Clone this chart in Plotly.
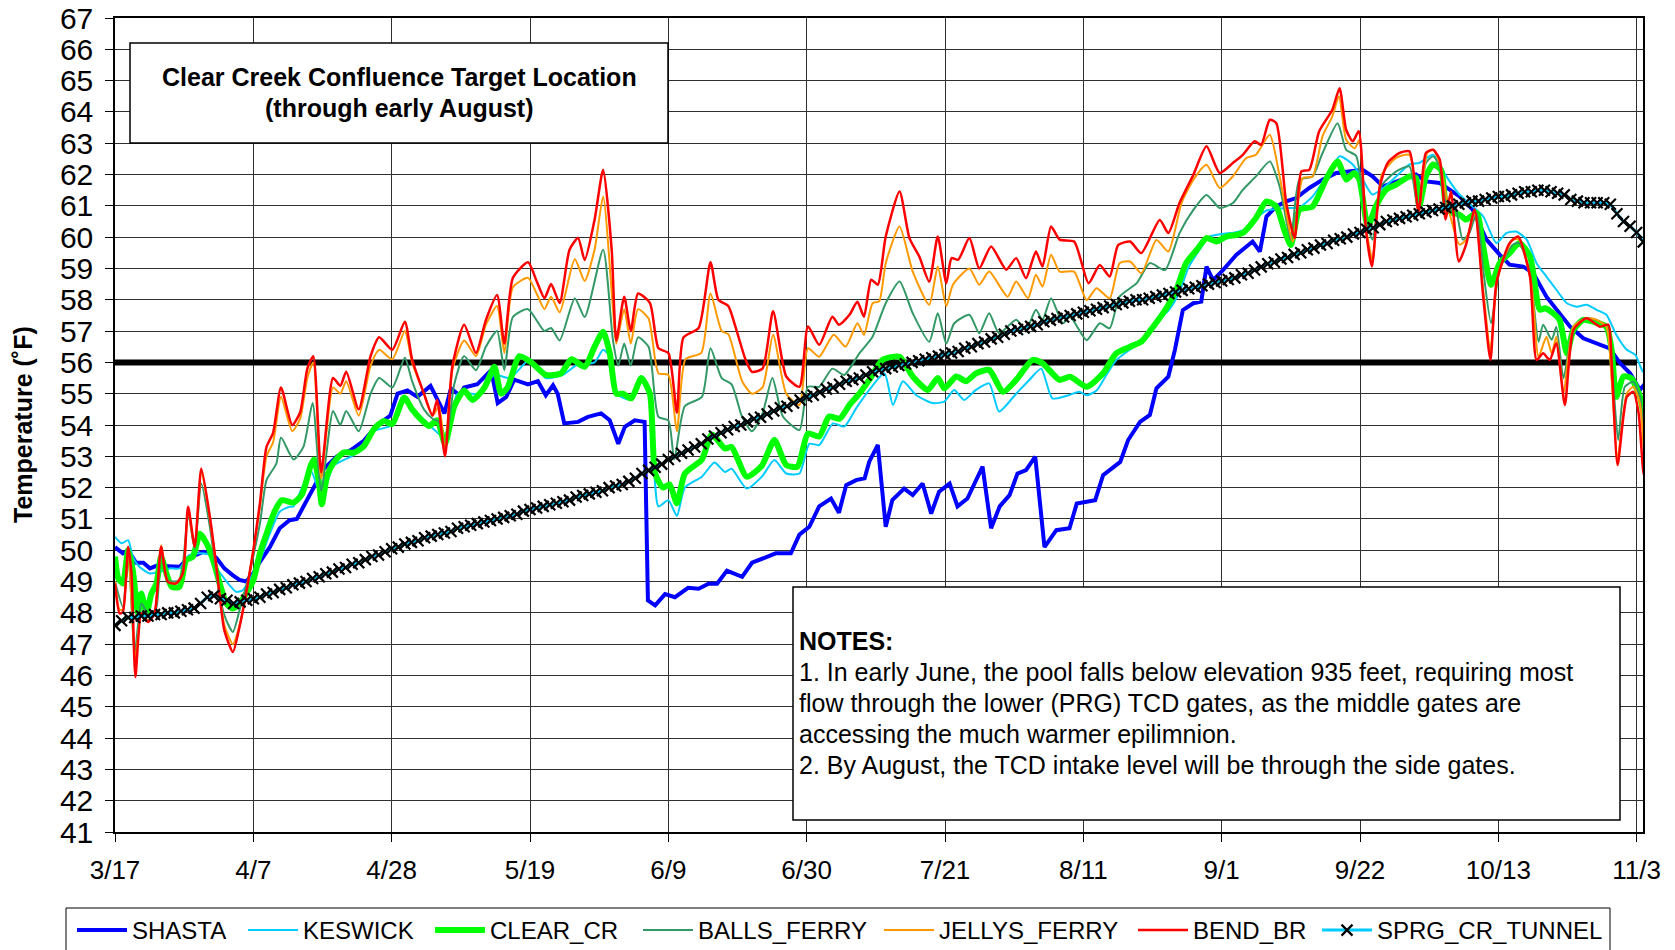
import plotly.graph_objects as go

# x positions are days after 3/17
TICK_DAYS = [0, 21, 42, 63, 84, 105, 126, 147, 168, 189, 210, 231]
TICK_LABELS = ["3/17", "4/7", "4/28", "5/19", "6/9", "6/30", "7/21", "8/11",
               "9/1", "9/22", "10/13", "11/3"]

TARGET_DAY = [0, 231]
TARGET_F = [56, 56]

SHASTA = [
    (0, 50.1), (1.2, 49.9), (2, 50.0), (3.2, 49.6), (4.3, 49.6), (5.3, 49.42), (6.3, 49.5),
    (7.8, 49.5), (9.8, 49.47), (11.3, 49.8), (12.3, 49.85), (13.4, 49.95), (14.4, 49.9),
    (15.4, 49.75), (16.6, 49.42), (17.9, 49.2), (18.9, 49.05), (19.9, 49.0), (21, 49.26),
    (22, 49.63), (23.5, 50.1), (25, 50.7), (26.5, 50.96), (27.6, 51.0), (28.6, 51.4),
    (30.2, 52.0), (31.7, 52.6), (33.7, 53.0), (35.8, 53.2), (37.8, 53.5), (39.8, 54.0),
    (41.8, 54.3), (42.9, 55.0), (44.4, 55.1), (45.9, 54.9), (47.9, 55.25), (50, 54.37),
    (51, 55.17), (52.3, 54.95), (53, 55.2), (55, 55.3), (57.1, 55.75), (58.1, 54.7),
    (59.4, 54.9), (60.6, 55.45), (62.7, 55.3), (64.2, 55.4), (65.4, 54.95), (66.5, 55.27),
    (67.2, 55.0), (68.2, 54.05), (70.3, 54.1), (71.8, 54.26), (73.8, 54.37), (75.1, 54.15),
    (76.4, 53.4), (77.4, 53.94), (78.9, 54.15), (80.4, 54.1), (80.9, 48.4), (82, 48.24),
    (83.5, 48.6), (85, 48.5), (87, 48.8), (88.6, 48.77), (90.1, 48.93), (91.4, 48.93),
    (92.9, 49.35), (95.2, 49.15), (96.7, 49.6), (98.3, 49.73), (100.3, 49.9), (102.6, 49.9),
    (103.9, 50.5), (105.4, 50.75), (106.9, 51.4), (108.7, 51.65), (109.9, 51.2), (111, 52.08),
    (112.5, 52.24), (113.8, 52.3), (114.5, 52.83), (115.8, 53.36), (117, 50.75), (118, 51.6),
    (119.8, 51.97), (121.1, 51.76), (122.6, 52.13), (123.9, 51.17), (125.1, 51.87),
    (126.7, 52.13), (127.9, 51.4), (129.4, 51.65), (131.7, 52.67), (133, 50.7), (134.3, 51.4),
    (135.8, 51.76), (137, 52.45), (138.3, 52.56), (139.7, 52.99), (141.1, 50.1),
    (142.9, 50.64), (144.9, 50.7), (146, 51.49), (148.8, 51.6), (150, 52.4), (152.6, 52.82),
    (153.8, 53.52), (155.6, 54.1), (157.1, 54.32), (158.1, 55.17), (159.9, 55.54),
    (160.9, 56.4), (162.1, 57.67), (163.7, 57.89), (164.9, 57.94), (165.7, 59.06),
    (166.7, 58.63), (168.2, 58.95), (170.2, 59.43), (172.7, 59.86), (173.8, 59.54),
    (174.8, 60.66), (176.3, 60.98), (177.8, 61.14), (179.3, 61.25), (181.3, 61.57),
    (183.3, 61.83), (185.4, 62.05), (187.4, 62.1), (189.4, 62.15), (190.9, 61.94),
    (192.5, 61.62), (194, 61.73), (196, 61.89), (197.5, 62.0), (199, 61.78), (201.1, 61.73),
    (202.6, 61.52), (204.1, 61.3), (206.1, 60.88), (208.2, 59.92), (210.2, 59.44),
    (211.7, 59.12), (213.8, 59.06), (215.3, 58.85), (217.3, 58.1), (219.3, 57.57),
    (220.9, 57.14), (222.9, 56.77), (224.9, 56.61), (226.9, 56.45), (228.5, 55.97),
    (230, 55.65), (231.5, 55.12), (232.3, 55.33), (233, 56.4),
]

KESWICK = [
    (0, 50.43), (1, 50.22), (2, 50.32), (2.7, 49.79), (3.7, 49.47), (5.3, 49.26), (6.8, 49.31),
    (8.3, 49.42), (9.8, 49.42), (11.3, 49.84), (12.9, 49.9), (14.4, 49.84), (15.4, 49.42),
    (16.4, 49.15), (17.4, 48.88), (18.4, 48.67), (19.4, 48.72), (20.4, 49.04), (22, 49.68),
    (23.5, 50.53), (25, 51.23), (26.5, 51.39), (27.1, 51.4), (29.7, 52.55), (31.4, 51.7),
    (33.2, 52.7), (36.3, 53.05), (39.3, 53.8), (42.1, 54.0), (43.9, 54.8), (45.1, 54.55),
    (47.7, 54.0), (50.1, 53.6), (52, 55.0), (55, 55.0), (57.6, 55.6), (60, 55.5), (63, 56.1),
    (65.4, 55.5), (68, 55.6), (70, 55.9), (72.8, 56.0), (74.1, 56.4), (75.1, 56.2),
    (76.1, 55.0), (78.4, 54.8), (79.9, 55.4), (81.2, 54.9), (82.5, 51.4), (84, 51.6),
    (85.3, 51.1), (86.5, 52.0), (89.1, 52.35), (91, 52.8), (92.6, 52.5), (93.6, 52.6),
    (95.9, 51.97), (98.2, 52.35), (100.1, 52.88), (101.9, 52.45), (103.9, 52.45),
    (105.4, 53.4), (106.9, 53.36), (109, 54.05), (110.7, 53.95), (112.5, 54.53),
    (114.5, 55.12), (116.8, 55.65), (118.1, 54.64), (119.6, 55.4), (121.6, 54.96),
    (124.1, 54.7), (125.9, 54.75), (127.4, 55.12), (128.9, 54.8), (130.7, 55.12),
    (132.7, 55.33), (134.2, 54.43), (136.8, 55.0), (138.8, 55.44), (140.6, 55.8),
    (142.3, 54.85), (144.9, 54.96), (146.4, 55.06), (147.5, 54.95), (149, 55.1),
    (150.5, 55.6), (152, 56.07), (154, 56.4), (155.8, 56.66), (158.1, 57.3), (159.9, 57.65),
    (161.5, 58.2), (163, 59.05), (164.5, 59.55), (166, 60.0), (168, 60.1), (170, 60.15),
    (171.5, 60.25), (173.2, 60.6), (174.8, 60.85), (176.3, 60.9), (178, 60.93),
    (179.8, 60.95), (181.8, 61.3), (183.8, 61.9), (185.9, 62.58), (187.9, 62.32),
    (189.4, 61.84), (190.9, 61.36), (192.5, 61.57), (194.5, 61.94), (196.5, 62.32),
    (198, 62.37), (200.1, 62.63), (202.1, 61.94), (203.9, 61.41), (206.1, 60.98),
    (207.7, 60.66), (209.7, 59.81), (211.2, 60.13), (212.7, 60.18), (214.3, 59.92),
    (215.8, 59.17), (217.3, 58.74), (218.8, 58.32), (220.4, 57.89), (221.9, 57.78),
    (223.4, 57.84), (224.9, 57.68), (226.4, 57.52), (227.9, 56.88), (229.5, 56.4),
    (230.8, 56.24), (231.8, 55.76), (233, 55.44),
]

CLEAR_CR = [
    (0, 49.8), (0.5, 49.1), (1.2, 48.94), (2, 50.0), (2.7, 49.36), (3.5, 47.98), (4, 48.62),
    (4.8, 47.98), (5.5, 48.6), (6.3, 48.94), (7, 49.79), (7.8, 49.26), (8.6, 48.83),
    (9.8, 48.83), (10.8, 49.68), (11.8, 49.79), (12.9, 50.53), (13.9, 50.22), (14.9, 49.68),
    (15.9, 48.94), (16.9, 48.3), (17.9, 48.14), (18.9, 48.3), (19.9, 48.62), (21, 49.04),
    (22, 49.9), (23, 50.53), (24.2, 51.23), (25.3, 51.6), (27.1, 51.52), (28.4, 51.79),
    (29.7, 52.7), (30.2, 52.9), (30.9, 52.27), (31.4, 51.47), (32.2, 52.38), (33.2, 52.8),
    (34.7, 53.12), (36.3, 53.12), (37.8, 53.33), (39.3, 53.87), (40.8, 54.13), (42.1, 54.03),
    (43.9, 54.88), (45.1, 54.5), (46.7, 54.13), (47.7, 53.97), (48.9, 54.15), (50.1, 53.4),
    (51.5, 54.6), (53, 55.1), (54.3, 54.8), (56.1, 55.2), (57.6, 55.86), (58.6, 55.0),
    (59.6, 55.2), (61.4, 56.2), (63.2, 56.0), (65.4, 55.6), (67.7, 55.65), (69.3, 56.1),
    (71.3, 55.86), (72.8, 56.5), (74.1, 56.98), (75.1, 56.3), (76.1, 55.0), (77.1, 55.0),
    (78.4, 54.85), (79.9, 55.5), (81.2, 55.0), (82, 52.45), (83.2, 52.0), (84.2, 52.1),
    (85.3, 51.5), (86.5, 52.45), (89.1, 52.9), (90.6, 53.7), (92.6, 53.25), (93.6, 53.3),
    (95.9, 52.35), (98.2, 52.7), (100.1, 53.52), (101.9, 52.72), (103.6, 52.67),
    (105.2, 53.73), (106.9, 53.63), (108.4, 54.27), (110, 54.2), (111.5, 54.64), (113, 55.0),
    (114.5, 55.44), (116.5, 56.08), (119.1, 56.18), (121.1, 55.55), (123.4, 55.12),
    (124.9, 55.5), (125.9, 55.17), (127.7, 55.55), (129.2, 55.4), (130.7, 55.65),
    (132.7, 55.76), (134.8, 55.06), (136.8, 55.44), (139.3, 56.08), (140.8, 55.97),
    (143.4, 55.44), (145, 55.54), (147.5, 55.22), (150, 55.65), (152, 56.29), (154.1, 56.5),
    (155.8, 56.66), (157.6, 57.14), (159.6, 57.73), (161.1, 58.31), (162.6, 59.17),
    (164.2, 59.59), (165.7, 59.97), (167.2, 59.86), (168.7, 60.02), (170.2, 60.07),
    (171.2, 60.13), (173.2, 60.61), (174.8, 61.14), (176.3, 60.98), (177.5, 60.23),
    (178.5, 59.75), (179.8, 60.87), (181.8, 60.98), (183.8, 61.83), (185.6, 62.42),
    (186.9, 61.84), (188.1, 62.05), (188.9, 61.84), (190.2, 60.34), (191.4, 60.98),
    (193, 61.52), (194.5, 61.68), (196.5, 61.94), (197.5, 61.89), (198, 60.98), (199, 61.94),
    (200.1, 62.32), (201.3, 62.15), (202.1, 60.98), (203.1, 60.77), (204.1, 60.72),
    (205.1, 60.56), (206.7, 60.77), (207.7, 59.7), (208.9, 58.48), (210.2, 59.17),
    (211.7, 59.49), (213.2, 59.81), (214.8, 59.38), (216.3, 57.68), (217.1, 57.73),
    (218.3, 57.57), (219.3, 57.36), (220.4, 56.29), (221.4, 57.04), (222.9, 57.36),
    (224.4, 57.3), (226.4, 57.14), (227.2, 56.4), (227.9, 54.9), (229, 55.55), (230.2, 55.49),
    (231.5, 54.9), (232.3, 54.16), (233, 54.8),
]

BALLS_FERRY = [
    (0, 49.0), (1.2, 48.19), (2, 50.0), (3, 46.7), (4, 48.3), (5.3, 47.87), (6.3, 48.19),
    (7, 49.95), (8, 49.04), (9.8, 49.04), (11.1, 51.17), (12.1, 50.05), (13.1, 52.13),
    (14.4, 50.75), (15.9, 48.51), (16.9, 47.76), (17.9, 47.39), (18.9, 48.08), (20.4, 49.26),
    (22, 50.85), (23, 52.24), (24.5, 52.77), (25.2, 53.6), (27.1, 52.9), (28.6, 53.3),
    (30.0, 54.7), (31.3, 51.9), (33.1, 54.45), (34.2, 54.0), (35.1, 54.45), (37, 53.8),
    (38.8, 55.0), (40.1, 55.5), (42.1, 55.2), (44, 56.15), (45.1, 55.4), (46.9, 54.5),
    (48.2, 54.2), (49.2, 54.1), (50.1, 53.2), (51.5, 55.3), (53, 56.2), (54.8, 55.75),
    (56.3, 56.5), (58, 57.0), (59.1, 55.75), (60.4, 57.45), (62.7, 57.7), (65.2, 57.0),
    (66.2, 57.1), (67.5, 56.7), (69.8, 58.05), (71.3, 57.45), (74.1, 59.6), (75.6, 56.7),
    (76.4, 55.9), (77.3, 56.6), (78.3, 55.9), (79.4, 56.8), (81, 56.5), (82.5, 54.26),
    (84, 54.15), (84.9, 52.9), (86.5, 54.6), (89.1, 54.9), (90.4, 56.45), (92.1, 55.5),
    (93.6, 55.3), (95.2, 54.26), (96.7, 53.8), (98.3, 54.37), (99.8, 55.5), (101.4, 54.27),
    (103.9, 53.84), (105.2, 55.22), (106.9, 55.22), (108.9, 55.8), (110.7, 55.6),
    (113, 56.29), (115, 56.82), (117, 57.89), (119.1, 58.58), (121.1, 57.57), (123.6, 56.66),
    (124.9, 57.57), (126.2, 56.6), (127.4, 57.25), (129.7, 57.52), (131.2, 56.93),
    (132.7, 57.57), (134.2, 56.93), (136.8, 57.36), (138.3, 57.04), (139.8, 57.68),
    (140.8, 57.36), (142.1, 58.05), (143.9, 57.25), (145, 57.46), (147.5, 56.71),
    (149.5, 57.25), (151, 57.09), (152.5, 58.1), (155.1, 58.53), (157.1, 59.17),
    (159.4, 58.95), (161.6, 60.13), (163.7, 60.87), (165.7, 61.35), (167.7, 60.93),
    (169.7, 61.09), (171.2, 61.51), (173.2, 61.94), (175.3, 62.42), (176.8, 61.62),
    (178.5, 59.91), (179.8, 61.83), (181.8, 61.94), (183.3, 62.68), (185.6, 63.64),
    (186.9, 62.79), (188.4, 62.6), (189.9, 60.56), (190.9, 59.92), (192.2, 61.62),
    (194.5, 62.1), (196.5, 62.26), (197.8, 60.88), (199, 62.37), (200.1, 62.58),
    (201.1, 62.26), (202.4, 60.77), (203.4, 60.98), (204.6, 59.92), (205.6, 60.13),
    (206.7, 60.77), (207.7, 58.96), (208.9, 57.25), (210.2, 58.96), (212.2, 59.76),
    (213.2, 59.81), (214.8, 58.85), (216.1, 56.66), (216.8, 57.2), (218.1, 56.72),
    (218.8, 57.14), (219.9, 55.49), (221.4, 57.14), (223.1, 57.41), (224.9, 57.36),
    (226.4, 57.14), (227.2, 55.97), (228.2, 53.52), (229.2, 55.22), (230.5, 55.38),
    (231.5, 54.9), (232.3, 53.3), (233, 54.27),
]

JELLYS_FERRY = [
    (0, 49.0), (0.7, 48.1), (1.2, 48.1), (2, 50.0), (3.1, 46.5), (4, 47.98), (5, 47.75),
    (6, 47.98), (7, 50.16), (8, 49.0), (9.3, 48.95), (10.3, 49.25), (11.1, 51.3), (12.1, 50.1),
    (13.1, 52.5), (14.4, 51.0), (15.4, 49.4), (16.6, 47.6), (17.9, 47.0), (18.9, 47.6),
    (19.9, 48.6), (21, 50.0), (22, 51.4), (23, 53.0), (24, 53.45), (25.2, 54.9), (26.9, 53.8),
    (28.1, 54.2), (29.2, 55.5), (30.1, 56.0), (31.3, 52.3), (33.1, 55.2), (34.2, 55.0),
    (35.1, 55.4), (37, 54.3), (38.8, 55.9), (40.1, 56.4), (42.1, 56.1), (44, 57.0),
    (45.1, 56.0), (46.9, 55.0), (48.2, 54.3), (49.2, 54.6), (50.1, 53.1), (51.2, 55.75),
    (53, 56.7), (54.8, 56.2), (56.3, 57.2), (58, 57.8), (59.1, 56.3), (60.4, 58.4),
    (62.7, 58.7), (64, 58.2), (65.2, 57.7), (66.2, 58.1), (67.5, 57.6), (69.8, 59.3),
    (71.3, 58.6), (72.8, 59.6), (74.1, 61.3), (75.6, 57.7), (76.1, 56.6), (77.3, 57.7),
    (78.3, 56.6), (79.4, 57.7), (81, 57.4), (82.5, 55.65), (84, 55.6), (85.3, 53.8),
    (86.6, 56.1), (89, 56.3), (90.4, 58.2), (92.1, 57.0), (93.1, 56.9), (95.2, 55.4),
    (96.7, 55.0), (98.3, 55.2), (99.9, 56.88), (101.9, 55.0), (103.9, 54.64), (105.2, 56.45),
    (106.9, 56.18), (109.1, 56.88), (110.9, 56.5), (112.7, 57.25), (113.7, 56.88),
    (115, 57.89), (116, 57.95), (117, 59.17), (119.1, 60.34), (121.1, 58.9), (123.6, 57.84),
    (124.9, 59.06), (126.2, 57.8), (127.2, 58.48), (129.7, 59.0), (131.2, 58.48),
    (132.7, 58.9), (135.5, 58.1), (136.8, 58.58), (138.6, 58.05), (139.8, 58.8),
    (140.8, 58.42), (142.1, 59.44), (143.4, 58.9), (145.6, 58.9), (147.5, 57.99),
    (149, 58.37), (151, 58.05), (152.5, 59.17), (154.1, 59.22), (155.8, 58.85),
    (158.1, 59.91), (159.9, 59.54), (161.9, 61.09), (163.7, 61.83), (165.7, 62.31),
    (167.7, 61.57), (169.7, 61.94), (171.7, 62.52), (173.2, 62.63), (175.3, 63.27),
    (176.8, 61.94), (178.8, 59.86), (180.3, 61.89), (181.8, 61.94), (183.3, 63.22),
    (184.8, 63.86), (185.8, 64.5), (186.9, 63.11), (188.2, 62.84), (188.9, 63.1),
    (189.9, 60.34), (190.9, 59.27), (192.3, 62.0), (194.5, 62.53), (196.5, 62.63),
    (197.9, 60.77), (199.2, 62.69), (200.1, 62.79), (201.1, 62.37), (202.6, 60.77),
    (204.1, 59.76), (205.1, 59.92), (206.4, 60.77), (207.7, 58.32), (208.8, 56.4),
    (209.9, 58.74), (212.2, 59.92), (213.2, 59.92), (215, 58.53), (216.1, 56.18),
    (217.3, 56.82), (218.1, 56.29), (218.8, 56.82), (219.9, 55.01), (221.4, 57.14),
    (223.4, 57.41), (224.9, 57.36), (226.4, 57.14), (227.2, 55.44), (228.1, 52.93),
    (229.5, 55.01), (230.5, 55.22), (231.5, 54.69), (232.3, 52.77), (233, 54.05),
]

BEND_BR = [
    (0, 48.94), (0.7, 47.98), (1.2, 48.03), (2, 50.11), (2.5, 49.26), (3.1, 45.95), (4, 47.98),
    (5, 47.71), (6, 47.98), (7, 50.11), (8, 48.99), (9.3, 48.94), (10.3, 49.26), (11.1, 51.39),
    (12.1, 50.11), (13.1, 52.61), (14.4, 51.07), (15.4, 49.47), (16.6, 47.44), (17.9, 46.75),
    (18.9, 47.55), (19.9, 48.62), (21, 50.0), (22, 51.5), (23, 53.3), (24, 53.75),
    (25.2, 55.2), (26.9, 54.0), (28.1, 54.4), (29.2, 55.8), (30.1, 56.2), (31.3, 52.5),
    (33.1, 55.5), (34.2, 55.25), (35.1, 55.7), (37, 54.5), (38.8, 56.2), (40.1, 56.8),
    (42.1, 56.4), (44, 57.3), (45.1, 56.1), (46.9, 55.0), (48.2, 54.3), (48.9, 54.8),
    (50.1, 53.0), (51.2, 55.86), (53, 57.2), (54.8, 56.3), (56.3, 57.35), (58, 58.15),
    (59.1, 56.6), (60.4, 58.7), (62.7, 59.2), (64, 58.6), (65.2, 58.05), (66.2, 58.5),
    (67.5, 57.9), (69, 59.6), (70.3, 59.97), (71.3, 59.27), (72.8, 60.55), (74.1, 62.15),
    (75.4, 59.6), (76.1, 56.7), (77.3, 58.1), (78.3, 57.0), (79.4, 58.2), (81.2, 57.9),
    (82.5, 56.45), (84, 56.3), (85.3, 54.4), (86.3, 56.8), (88.6, 57.1), (90.4, 59.2),
    (91.6, 58.0), (93.1, 57.8), (94.1, 57.2), (95.7, 56.1), (96.7, 55.7), (98.3, 55.8),
    (99.9, 57.63), (101.9, 55.55), (103.9, 55.22), (105.2, 57.15), (106.9, 56.56),
    (108.9, 57.46), (109.9, 57.2), (111.5, 57.52), (112.7, 57.94), (113.7, 57.46),
    (114.8, 58.64), (115.8, 58.48), (117, 60.02), (119.1, 61.46), (120.6, 59.97),
    (122.1, 59.38), (123.6, 58.58), (124.9, 60.02), (126.2, 58.53), (127, 59.33),
    (128, 59.28), (129.7, 59.97), (131.2, 59.0), (133, 59.7), (135.3, 58.96), (136.8, 59.33),
    (138.3, 58.69), (139.8, 59.54), (140.8, 59.06), (142.1, 60.34), (143.4, 59.92),
    (145.6, 59.86), (147.8, 58.53), (149.5, 59.11), (151, 58.74), (152.3, 59.75),
    (154.1, 59.86), (155.8, 59.49), (158.6, 60.55), (159.9, 60.13), (161.6, 61.09),
    (163.7, 61.99), (165.7, 62.9), (167.7, 62.05), (169.7, 62.37), (171.2, 62.63),
    (173, 63.06), (174, 62.95), (175.3, 63.75), (176.3, 63.64), (177.8, 61.09),
    (179.1, 59.97), (180.1, 62.1), (181.3, 62.15), (182.8, 63.38), (184.8, 64.07),
    (185.9, 64.76), (186.9, 63.43), (187.9, 63.06), (188.8, 63.38), (189.9, 60.23),
    (190.8, 59.06), (192, 61.6), (193.2, 62.37), (195, 62.69), (196.5, 62.74), (197.9, 60.82),
    (199, 62.69), (200.1, 62.79), (201.1, 62.48), (202, 60.56), (202.8, 61.46), (204, 59.22),
    (205.1, 59.76), (206.4, 60.88), (207.7, 58.1), (208.8, 56.08), (209.7, 58.53),
    (211.7, 59.81), (213, 60.02), (214.8, 58.74), (215.8, 56.08), (216.8, 56.29),
    (217.8, 56.08), (218.8, 56.61), (220.1, 54.64), (221.4, 57.04), (223.4, 57.41),
    (225.4, 57.14), (226.7, 57.2), (227.2, 55.97), (228.1, 52.72), (229.5, 54.9),
    (230.5, 55.06), (231.3, 54.37), (232.1, 52.4), (233, 53.62),
]

# Spring Creek tunnel, one reading per day from 3/17
SPRG_CR_TUNNEL = [
    47.6, 47.75, 47.85, 47.85, 47.9, 47.9, 47.95, 47.95, 48.0, 48.0,
    48.05, 48.1, 48.15, 48.3, 48.5, 48.55, 48.45, 48.4, 48.3, 48.35,
    48.4, 48.45, 48.5, 48.6, 48.65, 48.75, 48.8, 48.9, 48.95, 49.0,
    49.1, 49.15, 49.25, 49.3, 49.4, 49.45, 49.55, 49.6, 49.7, 49.8,
    49.85, 49.95, 50.05, 50.1, 50.2, 50.25, 50.3, 50.4, 50.45, 50.5,
    50.55, 50.6, 50.7, 50.75, 50.8, 50.85, 50.9, 50.95, 51.0, 51.05,
    51.1, 51.15, 51.25, 51.3, 51.35, 51.4, 51.45, 51.5, 51.55, 51.6,
    51.7, 51.75, 51.8, 51.85, 51.9, 52.0, 52.05, 52.1, 52.2, 52.3,
    52.45, 52.55, 52.65, 52.75, 52.9, 53.0, 53.1, 53.2, 53.3, 53.4,
    53.55, 53.65, 53.75, 53.85, 53.95, 54.0, 54.1, 54.2, 54.25, 54.35,
    54.45, 54.55, 54.6, 54.7, 54.8, 54.9, 54.95, 55.05, 55.15, 55.2,
    55.3, 55.4, 55.45, 55.5, 55.6, 55.7, 55.75, 55.8, 55.85, 55.9,
    55.95, 56.0, 56.05, 56.1, 56.15, 56.2, 56.25, 56.3, 56.35, 56.45,
    56.5, 56.6, 56.65, 56.75, 56.8, 56.9, 57.0, 57.05, 57.1, 57.15,
    57.2, 57.3, 57.35, 57.4, 57.45, 57.5, 57.55, 57.6, 57.65, 57.7,
    57.75, 57.8, 57.85, 57.9, 57.95, 58.0, 58.0, 58.05, 58.1, 58.15,
    58.2, 58.25, 58.3, 58.35, 58.4, 58.45, 58.5, 58.55, 58.6, 58.65,
    58.7, 58.8, 58.85, 58.95, 59.05, 59.15, 59.2, 59.3, 59.35, 59.45,
    59.5, 59.6, 59.65, 59.75, 59.8, 59.9, 59.95, 60.0, 60.1, 60.15,
    60.25, 60.3, 60.4, 60.5, 60.55, 60.6, 60.65, 60.7, 60.75, 60.8,
    60.85, 60.9, 60.95, 61.0, 61.05, 61.1, 61.15, 61.15, 61.2, 61.25,
    61.3, 61.3, 61.35, 61.4, 61.45, 61.45, 61.5, 61.5, 61.45, 61.4,
    61.35, 61.2, 61.15, 61.1, 61.1, 61.1, 61.1, 61.05, 60.75, 60.5,
    60.35, 60.15, 59.85,
]

TITLE_LINES = ["Clear Creek Confluence Target Location", "(through early August)"]
NOTES_LINES = [
    "<b>NOTES:</b>",
    "1. In early June, the pool falls below elevation 935 feet, requiring most",
    "flow through the lower (PRG) TCD gates, as the middle gates are",
    "accessing the much warmer epilimnion.",
    "2. By August, the TCD intake level will be through the side gates.",
]

FONT = "Liberation Sans, Arial, sans-serif"
W, H = 1675, 950
# plot area, in page pixels (body margin is removed after plotting)
PL, PR, PT, PB = 115, 1643, 18, 832


def px_x(px):
    return (px - PL) / (PR - PL)


def px_y(py):
    return (PB - py) / (PB - PT)


def _line(points, name, color, width, legend_w, shape="spline"):
    days, temps = zip(*points)
    return go.Scatter(x=days, y=temps, name=name, mode="lines", legendwidth=legend_w,
                      line=dict(color=color, width=width, shape=shape, smoothing=0.6))


fig = go.Figure()
fig.add_trace(go.Scatter(x=TARGET_DAY, y=TARGET_F, mode="lines", showlegend=False,
                         line=dict(color="black", width=6)))
fig.add_trace(_line(SHASTA, "SHASTA", "#0000FF", 4, 106, shape="linear"))
fig.add_trace(_line(KESWICK, "KESWICK", "#00CCFF", 2, 122))
fig.add_trace(_line(CLEAR_CR, "CLEAR_CR", "#00FF00", 6, 143))
fig.add_trace(_line(BALLS_FERRY, "BALLS_FERRY", "#339966", 2, 176))
fig.add_trace(_line(JELLYS_FERRY, "JELLYS_FERRY", "#FF9900", 2, 189))
fig.add_trace(_line(BEND_BR, "BEND_BR", "#FF0000", 2.5, 119))
fig.add_trace(go.Scatter(
    x=list(range(len(SPRG_CR_TUNNEL))), y=SPRG_CR_TUNNEL, name="SPRG_CR_TUNNEL",
    mode="lines+markers", line=dict(color="#00CCFF", width=3), legendwidth=230,
    marker=dict(symbol="x-thin", size=11, color="black", line=dict(color="black", width=2.2)),
))

shapes = [
    # title box
    dict(type="rect", xref="paper", yref="paper", x0=px_x(130), x1=px_x(668),
         y0=px_y(143), y1=px_y(43), line=dict(color="black", width=1.5),
         fillcolor="white", layer="above"),
    # notes box
    dict(type="rect", xref="paper", yref="paper", x0=px_x(793), x1=px_x(1620),
         y0=px_y(820), y1=px_y(587), line=dict(color="black", width=1.5),
         fillcolor="white", layer="above"),
    # legend frame
    dict(type="rect", xref="paper", yref="paper", x0=px_x(66), x1=px_x(1610),
         y0=px_y(965), y1=px_y(908), line=dict(color="black", width=1)),
]

annotations = []
for i, txt in enumerate(TITLE_LINES):
    annotations.append(dict(xref="paper", yref="paper", x=px_x(399), y=px_y(77 + 31 * i),
                            text=f"<b>{txt}</b>", showarrow=False, xanchor="center",
                            yanchor="middle", font=dict(size=25, color="black")))
for i, txt in enumerate(NOTES_LINES):
    annotations.append(dict(xref="paper", yref="paper", x=px_x(797), y=px_y(641 + 31 * i),
                            text=txt, showarrow=False, xanchor="left", yanchor="middle",
                            font=dict(size=25, color="black")))
annotations.append(dict(xref="paper", yref="paper", x=px_x(23), y=px_y(425),
                        text="<b>Temperature (˚F)</b>", textangle=-90, showarrow=False,
                        xanchor="center", yanchor="middle", font=dict(size=25, color="black")))

fig.update_layout(
    width=W, height=H,
    margin=dict(l=PL, r=W - PR, t=PT, b=H - PB, autoexpand=False),
    paper_bgcolor="white", plot_bgcolor="white",
    font=dict(family=FONT, color="black"),
    shapes=shapes, annotations=annotations,
    showlegend=True,
    legend=dict(orientation="h", x=px_x(72), y=px_y(908), xanchor="left", yanchor="top",
                font=dict(size=24), itemwidth=50, bgcolor="rgba(0,0,0,0)",
                traceorder="normal"),
    xaxis=dict(range=[0, 231.96], tickvals=TICK_DAYS, ticktext=TICK_LABELS,
               tickfont=dict(size=26), ticks="outside", ticklen=8, tickcolor="black",
               ticklabelstandoff=6, ticklabeloverflow="allow",
               showgrid=True, gridcolor="#303030", gridwidth=1, zeroline=False,
               showline=True, linecolor="black", linewidth=1.5, mirror=True),
    yaxis=dict(range=[41, 67], dtick=1, tickfont=dict(size=30), ticks="outside",
               ticklen=8, tickcolor="black", ticklabelstandoff=6, ticklabeloverflow="allow",
               showgrid=True, gridcolor="#303030", gridwidth=1, zeroline=False,
               showline=True, linecolor="black", linewidth=1.5, mirror=True),
)

fig.write_html("out.html", config={"displayModeBar": False},
               post_script="document.body.style.margin = '0';")
